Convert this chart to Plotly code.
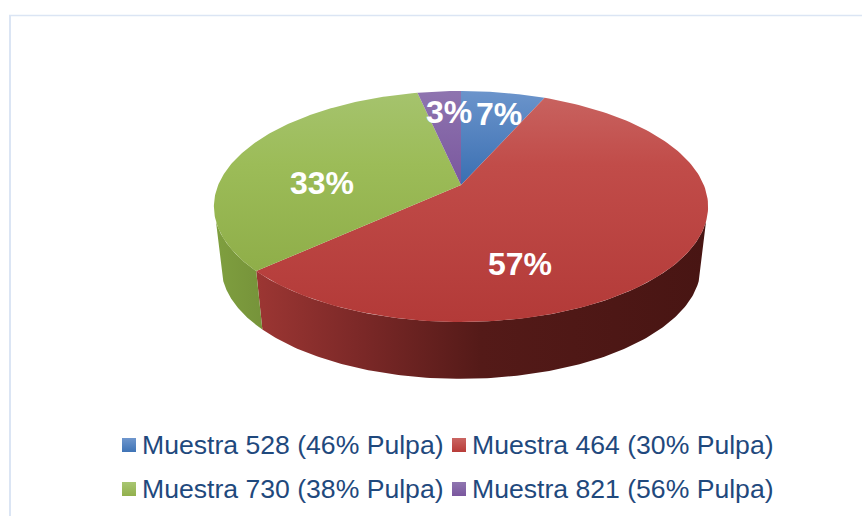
import numpy as np
import plotly.graph_objects as go

# ---- data ----
categories = ["Muestra 528 (46% Pulpa)", "Muestra 464 (30% Pulpa)",
              "Muestra 730 (38% Pulpa)", "Muestra 821 (56% Pulpa)"]
values = [6.6, 56.6, 33.4, 3.4]

# ---- styling / layout constants (not data) ----
APEX = (461.0, 185.0)
A, B, K = 242.8, 111.5, 0.186     # perspective pie projection
RIM_SCALE, RIM_DROP = 0.97, 61.0
WALL_FROM, WALL_TO = 1.883, 4.40  # silhouette of the visible wall
face_colors = [
    [[0, "#6b94cb"], [1, "#3a6fb2"]],
    [[0, "#c8625f"], [0.3, "#c14c49"], [1, "#b33a38"]],
    [[0, "#a5c36d"], [0.4, "#9cbc58"], [1, "#8fae49"]],
    [[0, "#8e74af"], [1, "#7a579e"]],
]
side_colors = [None,
               [[0, "#9c3633"], [0.22, "#7d2928"], [0.5, "#541a18"], [1, "#481513"]],
               [[0, "#7f9f3f"], [1, "#76933a"]],
               None]
swatch_colors = [("#6f97cd", "#3f74b6"), ("#ca6562", "#b83c39"),
                 ("#a8c672", "#92b04c"), ("#8f76b0", "#7a579e")]
label_xy = [(499, 114), (520, 264), (322, 183), (449, 112)]
legend_xy = [(129, 445), (459, 445), (129, 489), (459, 489)]
TEXT_COLOR = "#1F497D"


def project(f, rho=1.0, rim=False):
    X, Y = rho * np.sin(f), rho * np.cos(f)
    w = 1 + K * Y
    x, y = A * X / w, -B * Y / w
    if rim:
        return APEX[0] + RIM_SCALE * x, APEX[1] + RIM_SCALE * y + RIM_DROP
    return APEX[0] + x, APEX[1] + y


fr = np.array(values) / sum(values) * 2 * np.pi
ends = np.cumsum(fr)
starts = ends - fr

fig = go.Figure()

# rim walls: only the front of the pie is visible
for i, colors in enumerate(side_colors):
    if colors is None:
        continue
    a0, a1 = max(starts[i], WALL_FROM), min(ends[i], WALL_TO)
    t = np.linspace(a0, a1, 160)
    xt, yt = project(t)
    xb, yb = project(t[::-1], rim=True)
    xs, ys = np.r_[xt, xb], np.r_[yt, yb]
    fig.add_trace(go.Scatter(
        x=xs, y=ys, mode="lines", fill="toself", line=dict(width=0),
        fillgradient=dict(type="horizontal", colorscale=colors,
                          start=float(xs.min()), stop=float(xs.max())),
        hoverinfo="skip", showlegend=False))

# top faces
for i in range(len(values)):
    t = np.linspace(starts[i], ends[i], 160)
    xa, ya = project(t)
    xs, ys = np.r_[APEX[0], xa, APEX[0]], np.r_[APEX[1], ya, APEX[1]]
    fig.add_trace(go.Scatter(
        x=xs, y=ys, mode="lines", fill="toself", line=dict(width=0),
        fillgradient=dict(type="vertical", colorscale=face_colors[i],
                          start=float(ys.min()), stop=float(ys.max())),
        name=categories[i], hoverinfo="name", showlegend=False))

# legend swatches
for i, (lx, ly) in enumerate(legend_xy):
    fig.add_trace(go.Scatter(
        x=[lx], y=[ly], mode="markers", showlegend=False, hoverinfo="skip",
        marker=dict(symbol="square", size=14, color=swatch_colors[i][0],
                    gradient=dict(type="vertical", color=swatch_colors[i][1]),
                    line=dict(width=0))))

annotations = []
for v, (lx, ly) in zip(values, label_xy):
    annotations.append(dict(x=lx, y=ly, text=f"{round(v)}%", showarrow=False,
                            font=dict(family="Liberation Sans", size=32, color="white", weight="bold")))
for c, (lx, ly) in zip(categories, legend_xy):
    annotations.append(dict(x=lx + 14, y=ly, text=c, showarrow=False, xanchor="left",
                            xshift=-3,
                            font=dict(family="Liberation Sans", size=26.6, color=TEXT_COLOR)))

fig.update_layout(
    width=862, height=516, margin=dict(l=0, r=0, t=0, b=0),
    paper_bgcolor="white", plot_bgcolor="white", showlegend=False,
    xaxis=dict(range=[0, 862], visible=False, fixedrange=True),
    yaxis=dict(range=[516, 0], visible=False, fixedrange=True),
    annotations=annotations,
    shapes=[
        dict(type="line", xref="x", yref="y", x0=9, x1=862, y0=15.5, y1=15.5,
             line=dict(color="#dbe5f4", width=1.6)),
        dict(type="line", xref="x", yref="y", x0=10, x1=10, y0=15, y1=516,
             line=dict(color="#dbe5f4", width=2)),
    ],
)
fig.write_html("out.html", config=dict(displayModeBar=False),
               post_script="document.body.style.margin='0';document.body.style.overflow='hidden';")
